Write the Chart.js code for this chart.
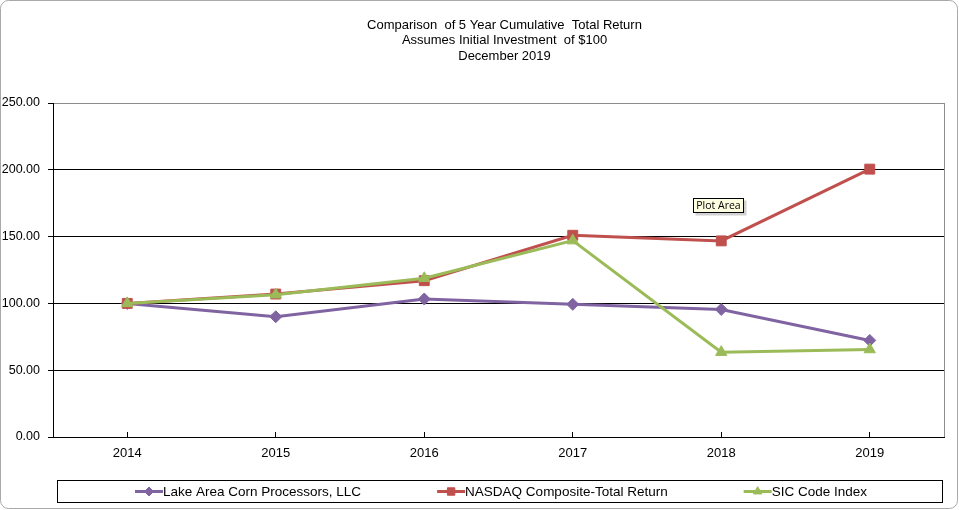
<!DOCTYPE html>
<html><head><meta charset="utf-8">
<script src="https://cdn.jsdelivr.net/npm/chart.js@4"></script>
<style>html,body{margin:0;padding:0;background:#fff;} #wrap{position:relative;width:959px;height:510px;} canvas{display:block}</style>
</head><body><div id="wrap"><canvas id="c" width="959" height="510"></canvas></div>
<script>
const years = ['2014', '2015', '2016', '2017', '2018', '2019'];
const lakeArea = [100.00, 90.00, 103.30, 99.30, 95.50, 72.30];
const nasdaq = [100.00, 107.00, 117.00, 151.00, 146.80, 200.50];
const sicIndex = [100.00, 106.50, 118.80, 147.00, 63.50, 65.50];
const seriesNames = ['Lake Area Corn Processors, LLC', 'NASDAQ Composite-Total Return', 'SIC Code Index'];
const titleLines = ['Comparison  of 5 Year Cumulative  Total Return', 'Assumes Initial Investment  of $100', 'December 2019'];
const yTickValues = [0, 50, 100, 150, 200, 250];
const hoverNote = 'Plot Area';

const FONT = '"Liberation Sans", Arial, sans-serif';
const colors = ['#8064A2', '#C0504D', '#9BBB59'];
const styles = ['rectRot', 'rect', 'triangle'];
const radii = [6, 7, 6.5];
const drawOrder = [2, 1, 0];

function drawMarker(ctx, style, x, y, r, color) {
  ctx.save();
  ctx.fillStyle = color; ctx.strokeStyle = color; ctx.lineWidth = 1;
  ctx.beginPath();
  if (style === 'rectRot') {
    ctx.moveTo(x, y - r); ctx.lineTo(x + r, y); ctx.lineTo(x, y + r); ctx.lineTo(x - r, y); ctx.closePath();
  } else if (style === 'rect') {
    const s = Math.SQRT1_2 * r; ctx.rect(x - s, y - s, 2 * s, 2 * s);
  } else {
    const a = 2 * Math.PI / 3;
    ctx.moveTo(x, y - r); ctx.lineTo(x + Math.sin(a) * r, y - Math.cos(a) * r); ctx.lineTo(x + Math.sin(2 * a) * r, y - Math.cos(2 * a) * r); ctx.closePath();
  }
  ctx.fill(); ctx.stroke();
  ctx.restore();
}

const decorPlugin = {
  id: 'decor',
  beforeDatasetsDraw(chart) {
    const {ctx, chartArea: a} = chart;
    ctx.save();
    ctx.strokeStyle = '#8c8c8c'; ctx.lineWidth = 1;
    ctx.beginPath();
    ctx.moveTo(Math.round(a.right) + 0.5, a.top);
    ctx.lineTo(Math.round(a.right) + 0.5, a.bottom);
    ctx.stroke();
    ctx.restore();
  },
  afterDraw(chart) {
    const {ctx} = chart;
    ctx.save();
    // outer rounded border
    ctx.strokeStyle = '#a9a9a9'; ctx.lineWidth = 1;
    ctx.beginPath();
    ctx.roundRect(0.5, 0.5, 957, 508, 8);
    ctx.stroke();
    // title
    ctx.fillStyle = '#000';
    ctx.font = '13px ' + FONT;
    ctx.textAlign = 'center'; ctx.textBaseline = 'middle';
    titleLines.forEach((t, i) => ctx.fillText(t, 504.5, 25 + i * 15.5));
    // legend
    ctx.strokeStyle = '#000';
    ctx.strokeRect(57.5, 480.5, 885, 22);
    ctx.font = '13.5px ' + FONT;
    ctx.textAlign = 'left';
    const markW = 28, gap = 76;
    const widths = seriesNames.map(n => markW + ctx.measureText(n).width);
    const total = widths.reduce((s, w) => s + w, 0) + gap * (widths.length - 1);
    let x = 501 - total / 2;
    const y = 491.5;
    seriesNames.forEach((n, i) => {
      ctx.strokeStyle = colors[i]; ctx.lineWidth = 3;
      ctx.beginPath(); ctx.moveTo(x, y); ctx.lineTo(x + markW, y); ctx.stroke();
      drawMarker(ctx, styles[i], x + markW / 2, y, radii[i] * 0.75, colors[i]);
      ctx.fillStyle = '#000';
      ctx.fillText(n, x + markW, y + 0.5);
      x += widths[i] + gap;
    });
    // "Plot Area" hover note
    ctx.font = '10.5px "Open Sans", "DejaVu Sans", sans-serif';
    const tw = ctx.measureText(hoverNote).width;
    const bx = 693.5, by = 198.5, bw = Math.round(tw + 6), bh = 14;
    ctx.fillStyle = 'rgba(0,0,0,0.18)';
    ctx.fillRect(bx + 2, by + 2, bw + 1, bh + 1);
    ctx.fillStyle = '#FFFFE1';
    ctx.fillRect(bx, by, bw, bh);
    ctx.strokeStyle = '#000'; ctx.lineWidth = 1;
    ctx.strokeRect(bx, by, bw, bh);
    ctx.fillStyle = '#000';
    ctx.textAlign = 'center'; ctx.textBaseline = 'middle';
    ctx.fillText(hoverNote, bx + bw / 2, by + bh / 2 + 0.5);
    ctx.restore();
  }
};

const seriesData = [lakeArea, nasdaq, sicIndex];
new Chart(document.getElementById('c'), {
  type: 'line',
  data: {
    labels: years,
    datasets: seriesData.map((d, i) => ({
      label: seriesNames[i],
      data: d,
      order: drawOrder[i],
      borderColor: colors[i],
      backgroundColor: colors[i],
      borderWidth: 3,
      tension: 0,
      pointStyle: styles[i],
      pointRadius: radii[i],
      pointBorderWidth: 1,
      pointBorderColor: colors[i],
      pointBackgroundColor: colors[i]
    }))
  },
  options: {
    responsive: false,
    animation: false,
    devicePixelRatio: 1,
    layout: {padding: {top: 103, right: 15, bottom: 38, left: 0}},
    plugins: {legend: {display: false}, title: {display: false}, tooltip: {enabled: false}},
    scales: {
      x: {
        offset: true,
        afterFit: s => { s.height = 35; },
        grid: {offset: false, drawOnChartArea: false, tickLength: -5, color: '#000', tickColor: '#000'},
        border: {color: '#000', width: 1},
        ticks: {color: '#000', font: {family: FONT, size: 13}, padding: 14, maxRotation: 0}
      },
      y: {
        min: 0, max: 250,
        afterFit: s => { s.width = 53; },
        afterBuildTicks: s => { s.ticks = yTickValues.map(v => ({value: v})); },
        grid: {color: c => (c.tick && c.tick.value === 250) ? '#8c8c8c' : '#000', tickColor: '#000', tickLength: 5, lineWidth: 1},
        border: {color: '#000', width: 1},
        ticks: {color: '#000', font: {family: FONT, size: 12.5}, padding: 8, callback: v => Number(v).toFixed(2)}
      }
    }
  },
  plugins: [decorPlugin]
});
</script>
</body></html>
